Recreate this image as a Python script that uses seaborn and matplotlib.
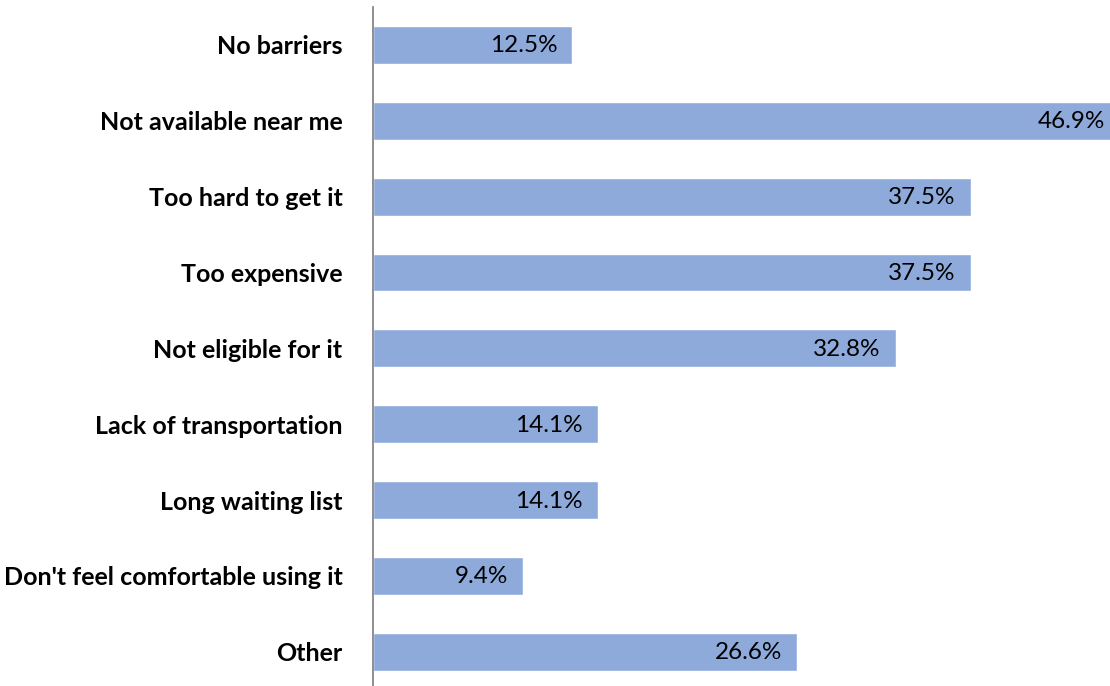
import matplotlib
matplotlib.use("Agg")
import matplotlib.pyplot as plt
import seaborn as sns
import pandas as pd

barriers = [
    "No barriers",
    "Not available near me",
    "Too hard to get it",
    "Too expensive",
    "Not eligible for it",
    "Lack of transportation",
    "Long waiting list",
    "Don't feel comfortable using it",
    "Other",
]
shares = [12.5, 46.9, 37.5, 37.5, 32.8, 14.1, 14.1, 9.4, 26.6]

df = pd.DataFrame({"barrier": barriers, "share": shares})

sns.set_theme(style="white")
plt.rcParams["font.family"] = ["Lato", "DejaVu Sans"]

W, H = 1110, 686
fig = plt.figure(figsize=(W / 100, H / 100), dpi=100)
ax = fig.add_axes([373 / W, 0, 1 - 373 / W, (H - 7) / H])

sns.barplot(data=df, y="barrier", x="share", orient="h", color="#8EAADB",
            saturation=1, width=0.5, ax=ax)

ax.set_xlim(0, 46.25)
ax.set_ylim(8.45, -0.5)

for i, v in enumerate(shares):
    ax.annotate(f"{v:.1f}%", xy=(v, i), xytext=(-15, -1), textcoords="offset pixels",
                ha="right", va="center", fontsize=17.5, color="#000000",
                annotation_clip=False)

ax.set_xlabel("")
ax.set_ylabel("")
ax.set_xticks([])
ax.tick_params(axis="y", length=0, pad=22)
for lab in ax.get_yticklabels():
    lab.set_fontweight("bold")
    lab.set_fontsize(18)
    lab.set_color("#000000")

for side in ["top", "right", "bottom"]:
    ax.spines[side].set_visible(False)
ax.spines["left"].set_color("#868686")
ax.spines["left"].set_linewidth(1.3)

fig.savefig("out.png", dpi=100)
